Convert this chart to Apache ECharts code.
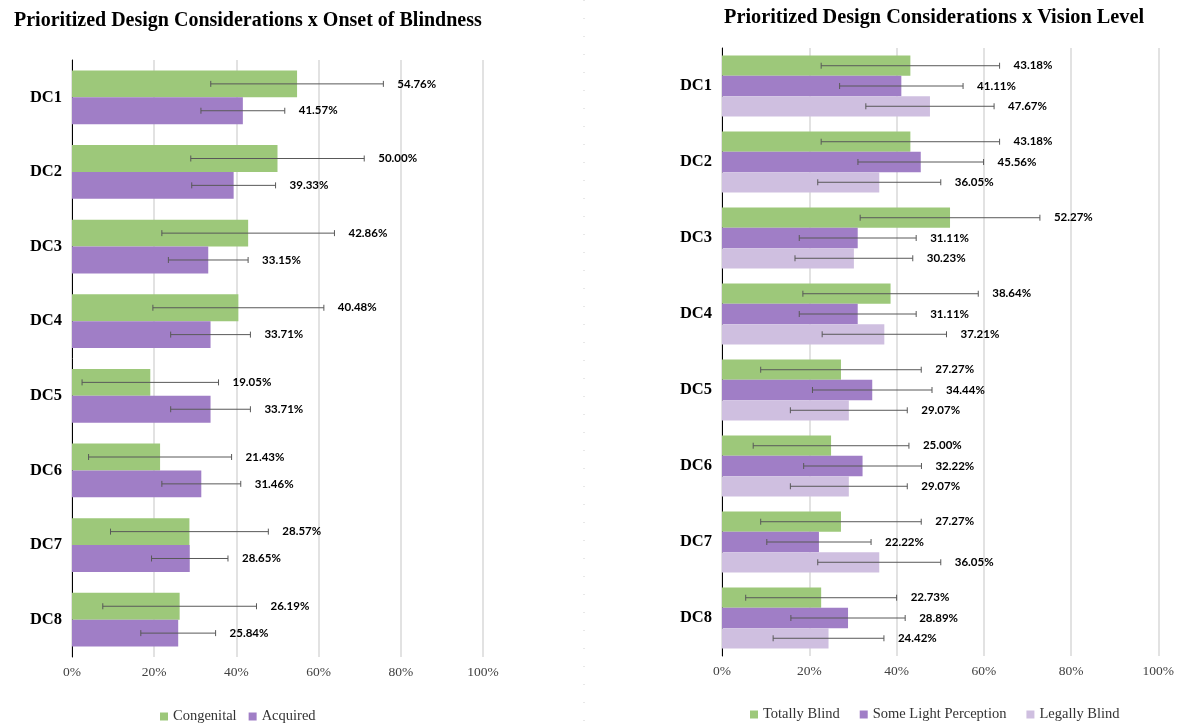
<!DOCTYPE html>
<html>
<head>
<meta charset="utf-8">
<script src="https://cdn.jsdelivr.net/npm/echarts@6/dist/echarts.min.js"></script>
<style>
html,body{margin:0;padding:0;background:#fff;}
#main{width:1177px;height:725px;}
</style>
</head>
<body>
<div id="main"></div>
<script>
// ---- data ----
var categories = ['DC1','DC2','DC3','DC4','DC5','DC6','DC7','DC8'];
var xTickValues = [0,20,40,60,80,100];

var congenital    = [54.76,50.00,42.86,40.48,19.05,21.43,28.57,26.19];
var congenitalErr = [21.0,21.1,21.0,20.8,16.6,17.4,19.2,18.7];
var acquired      = [41.57,39.33,33.15,33.71,33.71,31.46,28.65,25.84];
var acquiredErr   = [10.2,10.2,9.7,9.7,9.7,9.6,9.3,9.1];

var totallyBlind     = [43.18,43.18,52.27,38.64,27.27,25.00,27.27,22.73];
var totallyBlindErr  = [20.45,20.45,20.6,20.1,18.4,17.85,18.4,17.3];
var someLight        = [41.11,45.56,31.11,31.11,34.44,32.22,22.22,28.89];
var someLightErr     = [14.15,14.4,13.4,13.4,13.7,13.5,11.95,13.1];
var legallyBlind     = [47.67,36.05,30.23,37.21,29.07,29.07,36.05,24.42];
var legallyBlindErr  = [14.7,14.1,13.5,14.25,13.4,13.4,14.1,12.7];

// ---- styles ----
var GREEN = '#9DC87A', PURPLE = '#A07EC6', LAVENDER = '#CFBFE0';
var SERIF = '"Liberation Serif","Times New Roman",serif';
var LABELFONT = 'Lato, "Liberation Sans", sans-serif';

var chart = echarts.init(document.getElementById('main'));

function errSeries(name, xi, yi, values, errs, idx, count, gapRatio) {
  return {
    type: 'custom',
    name: name + ' err',
    xAxisIndex: xi, yAxisIndex: yi,
    z: 10,
    silent: true,
    encode: { x: 1, y: 0 },
    data: values.map(function (v, i) { return [i, v, errs[i]]; }),
    renderItem: function (params, api) {
      var cat = api.value(0), v = api.value(1), e = api.value(2);
      var band = api.size([0, 1])[1];
      var bw = band * (1 - gapRatio) / count;
      var off = -band * (1 - gapRatio) / 2 + bw * (idx + 0.5);
      var lo = api.coord([v - e, cat]);
      var hi = api.coord([v + e, cat]);
      var y = lo[1] + off;
      var cap = 3;
      var st = { stroke: '#595959', lineWidth: 1 };
      return {
        type: 'group',
        children: [
          { type: 'line', shape: { x1: lo[0], y1: y, x2: hi[0], y2: y }, style: st },
          { type: 'line', shape: { x1: lo[0], y1: y - cap, x2: lo[0], y2: y + cap }, style: st },
          { type: 'line', shape: { x1: hi[0], y1: y - cap, x2: hi[0], y2: y + cap }, style: st },
          { type: 'text', x: hi[0] + 14, y: y,
            style: { text: v.toFixed(2) + '%', fill: '#000', font: 'bold 11.5px ' + LABELFONT,
                     verticalAlign: 'middle', align: 'left' } }
        ]
      };
    }
  };
}

var xAxisCommon = {
  type: 'value', min: 0, max: 100, interval: 20,
  axisLine: { show: false }, axisTick: { show: false },
  splitLine: { lineStyle: { color: '#D9D9D9', width: 1.5 } },
  axisLabel: { formatter: function (v) { return xTickValues.indexOf(v) >= 0 ? v + '%' : ''; },
               fontFamily: SERIF, fontSize: 13.5, color: '#404040', margin: 8 }
};
var yAxisCommon = {
  type: 'category', data: categories, inverse: true,
  axisLine: { show: true, lineStyle: { color: '#000', width: 1 } },
  axisTick: { show: false },
  axisLabel: { fontFamily: SERIF, fontSize: 16.5, fontWeight: 'bold', color: '#000', margin: 10 }
};

var leftGap = 0.28, rightGap = 0.20;

chart.setOption({
  animation: false,
  backgroundColor: '#fff',
  title: [
    { text: 'Prioritized Design Considerations x Onset of Blindness', left: 9, top: 6,
      textStyle: { fontFamily: SERIF, fontSize: 20, fontWeight: 'bold', color: '#000' } },
    { text: 'Prioritized Design Considerations x Vision Level', left: 719, top: 3,
      textStyle: { fontFamily: SERIF, fontSize: 20.3, fontWeight: 'bold', color: '#000' } }
  ],
  legend: [
    { data: ['Congenital', 'Acquired'], left: 155, top: 704, icon: 'rect',
      itemWidth: 8, itemHeight: 8, itemGap: 12,
      textStyle: { fontFamily: SERIF, fontSize: 14.5, color: '#333' } },
    { data: ['Totally Blind', 'Some Light Perception', 'Legally Blind'], left: 745, top: 702, icon: 'rect',
      itemWidth: 8, itemHeight: 8, itemGap: 20,
      textStyle: { fontFamily: SERIF, fontSize: 14.5, color: '#333' } }
  ],
  grid: [
    { left: 72, width: 411, top: 60, height: 597 },
    { left: 722, width: 440, top: 48, height: 608 }
  ],
  xAxis: [
    Object.assign({ gridIndex: 0 }, xAxisCommon),
    Object.assign({ gridIndex: 1 }, xAxisCommon)
  ],
  yAxis: [
    Object.assign({ gridIndex: 0 }, yAxisCommon),
    Object.assign({ gridIndex: 1 }, yAxisCommon)
  ],
  graphic: [
    { type: 'line', shape: { x1: 584, y1: 0, x2: 584, y2: 725 },
      style: { stroke: '#d0d0d0', lineWidth: 1, lineDash: [1, 17] } }
  ],
  series: [
    { type: 'bar', name: 'Congenital', data: congenital, xAxisIndex: 0, yAxisIndex: 0,
      itemStyle: { color: GREEN }, barGap: '0%', barCategoryGap: (leftGap * 100) + '%' },
    { type: 'bar', name: 'Acquired', data: acquired, xAxisIndex: 0, yAxisIndex: 0,
      itemStyle: { color: PURPLE }, barGap: '0%', barCategoryGap: (leftGap * 100) + '%' },
    { type: 'bar', name: 'Totally Blind', data: totallyBlind, xAxisIndex: 1, yAxisIndex: 1,
      itemStyle: { color: GREEN }, barGap: '0%', barCategoryGap: (rightGap * 100) + '%' },
    { type: 'bar', name: 'Some Light Perception', data: someLight, xAxisIndex: 1, yAxisIndex: 1,
      itemStyle: { color: PURPLE }, barGap: '0%', barCategoryGap: (rightGap * 100) + '%' },
    { type: 'bar', name: 'Legally Blind', data: legallyBlind, xAxisIndex: 1, yAxisIndex: 1,
      itemStyle: { color: LAVENDER }, barGap: '0%', barCategoryGap: (rightGap * 100) + '%' },
    errSeries('Congenital', 0, 0, congenital, congenitalErr, 0, 2, leftGap),
    errSeries('Acquired', 0, 0, acquired, acquiredErr, 1, 2, leftGap),
    errSeries('Totally Blind', 1, 1, totallyBlind, totallyBlindErr, 0, 3, rightGap),
    errSeries('Some Light Perception', 1, 1, someLight, someLightErr, 1, 3, rightGap),
    errSeries('Legally Blind', 1, 1, legallyBlind, legallyBlindErr, 2, 3, rightGap)
  ]
});
</script>
</body>
</html>
